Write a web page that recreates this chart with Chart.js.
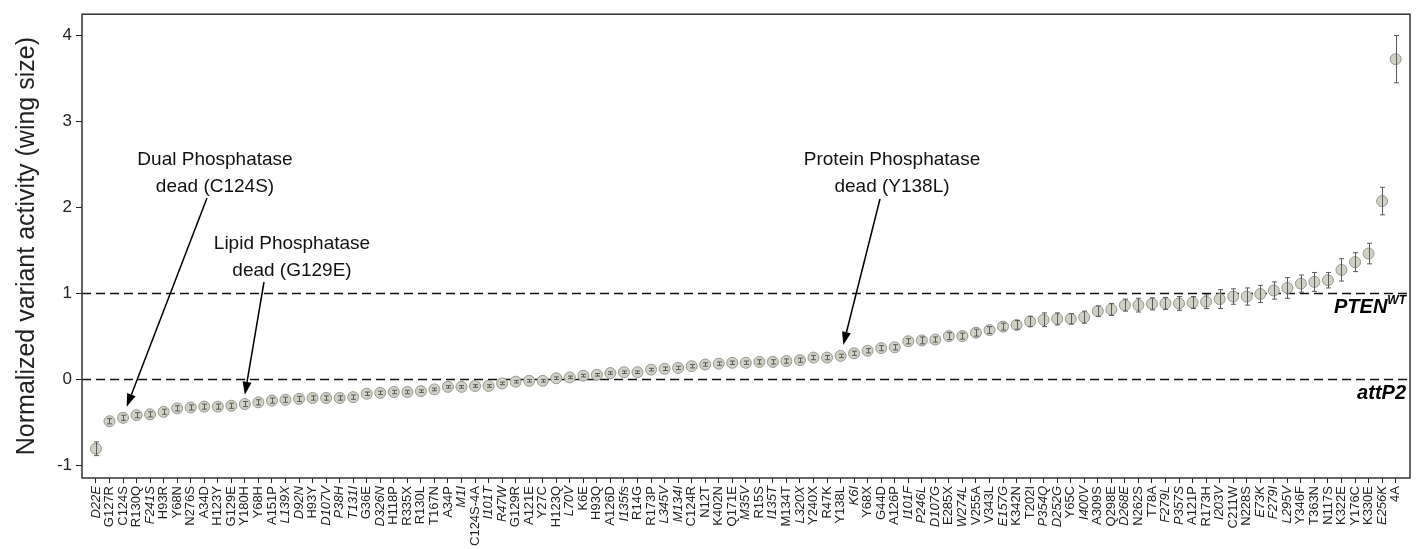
<!DOCTYPE html>
<html>
<head>
<meta charset="utf-8">
<script src="https://cdn.jsdelivr.net/npm/chart.js@4"></script>
<style>
  body { margin: 0; background: #fff; }
  #wrap { width: 1418px; height: 549px; position: relative; }
</style>
</head>
<body>
<div id="wrap"><canvas id="variantChart"></canvas></div>
<script>
const variants = [
  "D22E", "G127R", "C124S", "R130Q", "F241S", "H93R", "Y68N", "N276S", "A34D", "H123Y",
  "G129E", "Y180H", "Y68H", "A151P", "L139X", "D92N", "H93Y", "D107V", "P38H", "T131I",
  "G36E", "D326N", "H118P", "R335X", "R130L", "T167N", "A34P", "M1I", "C124S-4A", "I101T",
  "R47W", "G129R", "A121E", "Y27C", "H123Q", "L70V", "K6E", "H93Q", "A126D", "I135fs",
  "R14G", "R173P", "L345V", "M134I", "C124R", "N12T", "K402N", "Q171E", "M35V", "R15S",
  "I135T", "M134T", "L320X", "Y240X", "R47K", "Y138L", "K6I", "Y68X", "G44D", "A126P",
  "I101F", "P246L", "D107G", "E285X", "W274L", "V255A", "V343L", "E157G", "K342N", "T202I",
  "P354Q", "D252G", "Y65C", "I400V", "A309S", "Q298E", "D268E", "N262S", "T78A", "F279L",
  "P357S", "A121P", "R173H", "I203V", "C211W", "N228S", "E73K", "F279I", "L295V", "Y346F",
  "T363N", "N117S", "K322E", "Y176C", "K330E", "E256K", "4A"
];

const activity = [
  -0.81, -0.49, -0.45, -0.42, -0.41, -0.38, -0.34, -0.33, -0.32, -0.32,
  -0.31, -0.29, -0.27, -0.25, -0.24, -0.23, -0.22, -0.22, -0.22, -0.21,
  -0.17, -0.16, -0.15, -0.15, -0.14, -0.12, -0.09, -0.09, -0.08, -0.08,
  -0.05, -0.03, -0.02, -0.02, 0.01, 0.02, 0.04, 0.05, 0.07, 0.08,
  0.08, 0.11, 0.12, 0.13, 0.15, 0.17, 0.18, 0.19, 0.19, 0.20,
  0.20, 0.21, 0.22, 0.25, 0.25, 0.27, 0.30, 0.33, 0.36, 0.37,
  0.44, 0.45, 0.46, 0.50, 0.50, 0.54, 0.57, 0.61, 0.63, 0.67,
  0.69, 0.70, 0.70, 0.72, 0.79, 0.81, 0.86, 0.86, 0.875, 0.88,
  0.88, 0.89, 0.90, 0.93, 0.96, 0.96, 0.99, 1.03, 1.06, 1.11,
  1.13, 1.15, 1.27, 1.36, 1.46, 2.07, 3.72
];

const activityErr = [
  0.08, 0.03, 0.03, 0.03, 0.03, 0.03, 0.03, 0.03, 0.03, 0.03,
  0.03, 0.03, 0.03, 0.03, 0.03, 0.03, 0.025, 0.025, 0.025, 0.025,
  0.02, 0.02, 0.02, 0.02, 0.015, 0.015, 0.015, 0.015, 0.015, 0.015,
  0.015, 0.015, 0.015, 0.015, 0.015, 0.015, 0.015, 0.015, 0.015, 0.015,
  0.015, 0.015, 0.02, 0.02, 0.02, 0.02, 0.02, 0.02, 0.02, 0.025,
  0.025, 0.025, 0.025, 0.025, 0.025, 0.02, 0.025, 0.025, 0.03, 0.03,
  0.03, 0.04, 0.03, 0.04, 0.035, 0.04, 0.04, 0.04, 0.05, 0.06,
  0.08, 0.07, 0.06, 0.07, 0.06, 0.07, 0.07, 0.08, 0.07, 0.07,
  0.08, 0.07, 0.08, 0.11, 0.09, 0.10, 0.10, 0.10, 0.12, 0.10,
  0.11, 0.09, 0.13, 0.11, 0.12, 0.16, 0.275
];

const italicVariants = [
  "D22E", "F241S", "L139X", "D92N", "D107V", "P38H", "T131I", "D326N", "M1I", "I101T",
  "R47W", "L70V", "I135fs", "L345V", "M134I", "M35V", "I135T", "L320X", "K6I", "I101F",
  "P246L", "D107G", "W274L", "E157G", "P354Q", "D252G", "I400V", "D268E", "F279L", "P357S",
  "I203V", "E73K", "F279I", "L295V", "E256K"
];

const yTicks = [-1, 0, 1, 2, 3, 4];
const refLines = [1, 0];

// callouts: text lines, text centre, arrow start, arrow target (variant + nudge)
const callouts = [
  { lines: ["Dual Phosphatase", "dead (C124S)"], cx: 215, cy: 160, sx: 207, sy: 198, target: "C124S", nudge: 0.27 },
  { lines: ["Lipid Phosphatase", "dead (G129E)"], cx: 292, cy: 244, sx: 264, sy: 282, target: "G129E", nudge: 1.0 },
  { lines: ["Protein Phosphatase", "dead (Y138L)"], cx: 892, cy: 160, sx: 880, sy: 199, target: "Y138L", nudge: 0.2 }
];

const FONT = "'Liberation Sans', Arial, sans-serif";

const extrasPlugin = {
  id: "extras",
  beforeDatasetsDraw(chart) {
    const { ctx, chartArea: a, scales: { y } } = chart;
    ctx.save();
    ctx.strokeStyle = "#111";
    ctx.lineWidth = 1.5;
    ctx.setLineDash([9, 5]);
    refLines.forEach((v) => {
      const py = Math.round(y.getPixelForValue(v)) + 0.5;
      ctx.beginPath();
      ctx.moveTo(a.left, py);
      ctx.lineTo(a.right, py);
      ctx.stroke();
    });
    ctx.restore();
  },
  afterDatasetsDraw(chart) {
    const { ctx, scales: { x, y } } = chart;
    ctx.save();
    ctx.strokeStyle = "#5a5a5a";
    ctx.lineWidth = 1;
    activity.forEach((v, i) => {
      const px = Math.round(x.getPixelForValue(i)) + 0.5;
      const top = y.getPixelForValue(v + activityErr[i]);
      const bot = y.getPixelForValue(v - activityErr[i]);
      ctx.beginPath();
      ctx.moveTo(px, top);
      ctx.lineTo(px, bot);
      ctx.moveTo(px - 2.5, top);
      ctx.lineTo(px + 2.5, top);
      ctx.moveTo(px - 2.5, bot);
      ctx.lineTo(px + 2.5, bot);
      ctx.stroke();
    });
    ctx.restore();
  },
  afterDraw(chart) {
    const { ctx, chartArea: a, scales: { x, y } } = chart;
    ctx.save();
    // frame
    ctx.strokeStyle = "#333";
    ctx.lineWidth = 1.5;
    ctx.strokeRect(a.left, a.top, a.right - a.left, a.bottom - a.top);

    // reference line labels
    ctx.fillStyle = "#000";
    ctx.textAlign = "right";
    ctx.textBaseline = "alphabetic";
    ctx.font = "italic bold 12px " + FONT;
    const wtW = ctx.measureText("WT").width;
    ctx.fillText("WT", a.right - 4, y.getPixelForValue(1) + 11);
    ctx.font = "italic bold 20px " + FONT;
    ctx.fillText("PTEN", a.right - 4 - wtW, y.getPixelForValue(1) + 20);
    ctx.fillText("attP2", a.right - 4, y.getPixelForValue(0) + 20);

    // callouts
    ctx.textAlign = "center";
    ctx.textBaseline = "middle";
    ctx.font = "19px " + FONT;
    ctx.fillStyle = "#111";
    ctx.strokeStyle = "#000";
    ctx.lineWidth = 1.5;
    callouts.forEach((c) => {
      c.lines.forEach((t, k) => ctx.fillText(t, c.cx, c.cy + k * 27));
      const idx = variants.indexOf(c.target);
      const tx = x.getPixelForValue(idx + c.nudge);
      const ty = y.getPixelForValue(activity[idx]) - 11;
      const ang = Math.atan2(ty - c.sy, tx - c.sx);
      const hl = 13, hw = 4.5;
      const bx = tx - hl * Math.cos(ang), by = ty - hl * Math.sin(ang);
      ctx.beginPath();
      ctx.moveTo(c.sx, c.sy);
      ctx.lineTo(bx, by);
      ctx.stroke();
      ctx.beginPath();
      ctx.moveTo(tx, ty);
      ctx.lineTo(bx + hw * Math.sin(ang), by - hw * Math.cos(ang));
      ctx.lineTo(bx - hw * Math.sin(ang), by + hw * Math.cos(ang));
      ctx.closePath();
      ctx.fillStyle = "#000";
      ctx.fill();
      ctx.fillStyle = "#111";
    });
    ctx.restore();
  }
};

new Chart(document.getElementById("variantChart"), {
  type: "scatter",
  data: {
    datasets: [
      {
        label: "Normalized variant activity",
        data: activity.map((v, i) => ({ x: i, y: v })),
        backgroundColor: "#d0d0c5",
        borderColor: "#969690",
        borderWidth: 1,
        pointRadius: 5.5,
        pointHoverRadius: 5.5,
      },
    ],
  },
  options: {
    responsive: true,
    maintainAspectRatio: false,
    animation: false,
    layout: { padding: { top: 12, right: 8, left: 0, bottom: 0 } },
    plugins: {
      legend: { display: false },
      tooltip: { enabled: false },
      title: { display: false },
    },
    scales: {
      x: {
        type: "linear",
        min: -1.03,
        max: 97.06,
        afterBuildTicks: (scale) => {
          scale.ticks = variants.map((_, i) => ({ value: i }));
        },
        afterFit: (scale) => {
          scale.height = 71;
        },
        border: { display: false },
        grid: {
          display: true,
          drawOnChartArea: false,
          drawTicks: true,
          tickLength: 5,
          color: "#222",
          lineWidth: 1,
        },
        ticks: {
          autoSkip: false,
          minRotation: 90,
          maxRotation: 90,
          padding: 3,
          color: "#222",
          font: (c) => ({
            family: FONT,
            size: 13,
            style: italicVariants.includes(variants[c.index]) ? "italic" : "normal",
          }),
          callback: (value) => variants[value] ?? "",
        },
      },
      y: {
        min: -1.15,
        max: 4.243,
        afterBuildTicks: (scale) => {
          scale.ticks = yTicks.map((v) => ({ value: v }));
        },
        afterFit: (scale) => {
          scale.width = 82;
        },
        border: { display: false },
        grid: {
          display: true,
          drawOnChartArea: false,
          drawTicks: true,
          tickLength: 6,
          color: "#222",
          lineWidth: 1,
        },
        ticks: {
          padding: 4,
          color: "#222",
          font: { family: FONT, size: 17 },
          callback: (value) => value,
        },
        title: {
          display: true,
          text: "Normalized variant activity (wing size)",
          color: "#222",
          font: { family: FONT, size: 25 },
          padding: { top: 12, bottom: 0 },
        },
      },
    },
  },
  plugins: [extrasPlugin],
});
</script>
</body>
</html>
